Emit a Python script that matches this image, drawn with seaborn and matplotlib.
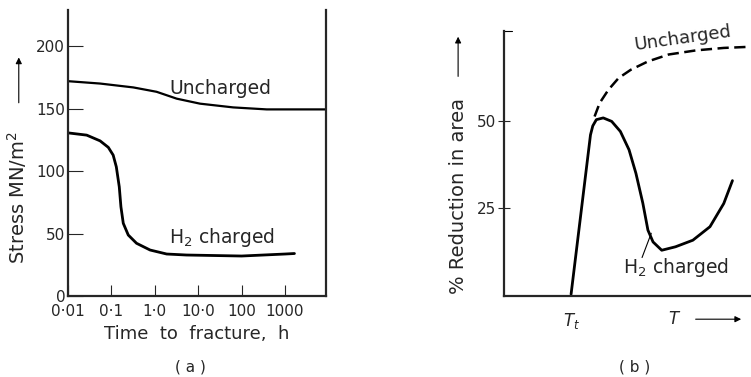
import numpy as np
import pandas as pd
import matplotlib
matplotlib.use("Agg")
import matplotlib.pyplot as plt
import seaborn as sns

# (a) stress vs time to fracture
time_h2 = [0.01, 0.027, 0.055, 0.085, 0.11, 0.13, 0.152, 0.166, 0.188, 0.245, 0.38, 0.78, 1.88, 5.4, 100, 1000, 1650]
stress_h2 = [130.6, 128.8, 124.2, 119.0, 112.8, 103.4, 87.4, 71.4, 58.2, 48.8, 42.2, 36.8, 33.6, 32.8, 32, 33.6, 34]
time_unch = [0.01, 0.055, 0.32, 1.1, 3.2, 11, 64, 379, 8800]
stress_unch = [172, 170.1, 167, 163.5, 158, 154, 151, 149.4, 149.4]
xticks_a = [0.01, 0.1, 1.0, 10, 100, 1000]
xticklabels_a = ["0·01", "0·1", "1·0", "10·0", "100", "1000"]
yticks_a = [0, 50, 100, 150, 200]

# (b) % reduction in area vs temperature
temp_h2 = [26.3, 33.9, 34.8, 36.2, 38.9, 42.2, 45.6, 49.0, 51.7, 54.4, 56.4, 58.4, 61.8, 67.2, 74.0, 80.7, 86.1, 89.5]
ra_h2 = [0, 46.0, 48.6, 50.4, 50.9, 49.9, 47.0, 41.7, 34.9, 26.3, 18.5, 15.1, 12.7, 13.7, 15.6, 19.5, 26.2, 32.8]
temp_unch = [35.5, 37.5, 40.9, 44.9, 49.7, 56.4, 64.5, 75.3, 86.1, 95.5]
ra_unch = [51.3, 55.2, 59.0, 62.4, 64.8, 67.2, 69.2, 70.4, 71.1, 71.4]
t_trans = 26.3
yticks_b = [25, 50]

sns.set_style("ticks")
plt.rcParams['font.family'] = ['DejaVu Sans']

fig = plt.figure(figsize=(7.51, 3.77), dpi=100)
ax1 = fig.add_axes([0.0905, 0.2149, 0.3436, 0.7586])
ax2 = fig.add_axes([0.671, 0.2149, 0.34, 0.703])

# ---- panel a
sns.lineplot(x=time_unch, y=stress_unch, ax=ax1, color="black", lw=1.6)
sns.lineplot(x=time_h2, y=stress_h2, ax=ax1, color="black", lw=2.0)
ax1.set_xscale("log")
ax1.set_xlim(0.01, 8800)
ax1.set_ylim(0, 229)
ax1.set_xticks(xticks_a)
ax1.set_xticklabels(xticklabels_a)
ax1.set_yticks(yticks_a)
ax1.minorticks_off()
ax1.tick_params(axis="y", direction="in", length=11, width=0.8, labelsize=11, pad=2)
ax1.tick_params(axis="x", direction="in", length=8, width=0.8, labelsize=11, pad=6)
ax1.spines["top"].set_visible(False)
for s in ["left", "right", "bottom"]:
    ax1.spines[s].set_linewidth(1.6)
ax1.set_xlabel("Time  to  fracture,  h", fontsize=13, labelpad=4)
ax1.set_ylabel("")
ax1.text(0.589, 0.727, "Uncharged", transform=ax1.transAxes, fontsize=13.5, ha="center", va="center")
ax1.text(0.597, 0.206, "H$_2$ charged", transform=ax1.transAxes, fontsize=13.5, ha="center", va="center")
fig.text(0.023, 0.477, "Stress MN/m$^2$", rotation=90, fontsize=14, ha="center", va="center")
fig.add_artist(matplotlib.patches.FancyArrowPatch((0.025, 0.72), (0.025, 0.855), transform=fig.transFigure,
                                                  arrowstyle="-|>", mutation_scale=9, color="black", lw=0.8))
fig.text(0.253, 0.027, "( a )", fontsize=11, ha="center", va="center")

# ---- panel b
sns.lineplot(x=temp_unch, y=ra_unch, ax=ax2, color="black", lw=1.8, linestyle=(0, (4.5, 2.2)))
sns.lineplot(x=temp_h2, y=ra_h2, ax=ax2, color="black", lw=2.0)
ax2.set_xlim(0, 100)
ax2.set_ylim(-0.5, 76)
ax2.set_yticks(yticks_b)
ax2.set_xticks([t_trans])
ax2.set_xticklabels(["$T_t$"])
ax2.tick_params(axis="y", direction="inout", length=9, width=0.8, labelsize=11, pad=1)
ax2.tick_params(axis="x", length=0, labelsize=12, pad=11)
ax2.spines["top"].set_visible(False)
ax2.spines["right"].set_visible(False)
for s in ["left", "bottom"]:
    ax2.spines[s].set_linewidth(1.6)
ax2.plot([0, 3], [76, 76], color="black", lw=0.8, clip_on=False)
ax2.text(67, -7.2, "$T$", fontsize=12, ha="center", va="center")
ax2.annotate("", xy=(94, -7.2), xytext=(74, -7.2), xycoords="data",
             arrowprops=dict(arrowstyle="-|>", color="black", lw=0.8, mutation_scale=9), annotation_clip=False)
ax2.text(70, 73.8, "Uncharged", fontsize=13, ha="center", va="center", rotation=8)
ax2.text(67.5, 7.6, "H$_2$ charged", fontsize=13.5, ha="center", va="center")
ax2.plot([57.7, 54.1], [17.6, 10.6], color="black", lw=0.8)
fig.text(0.61, 0.48, "% Reduction in area", rotation=90, fontsize=14, ha="center", va="center")
fig.add_artist(matplotlib.patches.FancyArrowPatch((0.61, 0.79), (0.61, 0.91), transform=fig.transFigure,
                                                  arrowstyle="-|>", mutation_scale=9, color="black", lw=0.8))
fig.text(0.845, 0.027, "( b )", fontsize=11, ha="center", va="center")

fig.savefig("out.png", dpi=100)
